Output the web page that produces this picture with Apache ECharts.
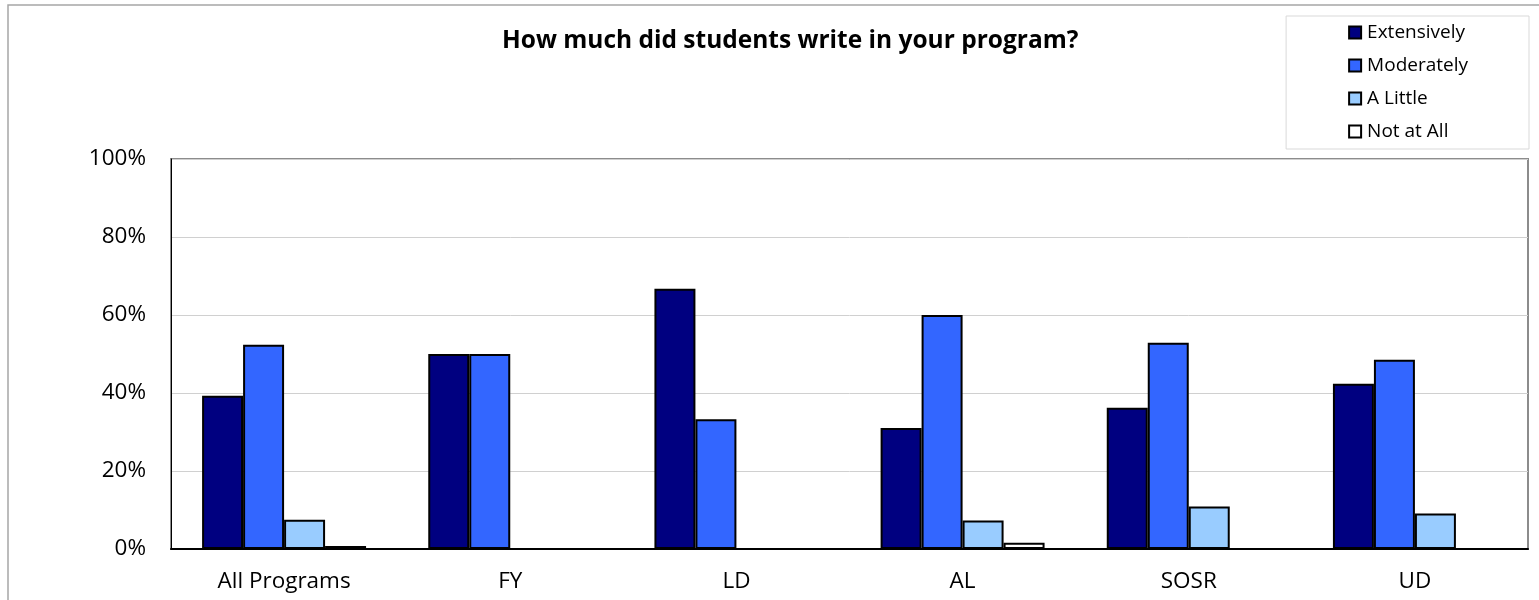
<!DOCTYPE html>
<html>
<head>
<meta charset="utf-8">
<script src="https://cdn.jsdelivr.net/npm/echarts@6/dist/echarts.min.js"></script>
<style>
html,body{margin:0;padding:0;background:#fff;}
#c{width:1539px;height:600px;}
</style>
</head>
<body>
<div id="c"></div>
<script>
const categories = ['All Programs', 'FY', 'LD', 'AL', 'SOSR', 'UD'];
const extensively = [39.3, 50, 66.7, 31.0, 36.2, 42.4];
const moderately = [52.4, 50, 33.3, 60.0, 52.9, 48.5];
const aLittle = [7.5, null, null, 7.3, 10.9, 9.1];
const notAtAll = [0.8, null, null, 1.6, null, null];
const yTicks = [0, 20, 40, 60, 80, 100];

const FONT = 'Open Sans';
const chart = echarts.init(document.getElementById('c'));

function mk(name, data, color) {
  return {
    name: name,
    type: 'bar',
    data: data,
    barGap: '0%',
    barCategoryGap: '27.5%',
    itemStyle: { color: color, borderColor: '#000', borderWidth: 2 },
    emphasis: { disabled: true }
  };
}

chart.setOption({
  animation: false,
  backgroundColor: '#fff',
  title: {
    text: 'How much did students write in your program?',
    left: 497,
    top: 24,
    textStyle: { fontFamily: FONT, fontWeight: 'bold', fontSize: 24.5, color: '#000' }
  },
  legend: {
    orient: 'vertical',
    right: 10,
    top: 16,
    padding: [7, 61, 8, 62],
    itemGap: 14,
    itemWidth: 12,
    itemHeight: 12,
    borderColor: '#d9d9d9',
    borderWidth: 1,
    icon: 'rect',
    itemStyle: { borderColor: '#000', borderWidth: 2 },
    textStyle: { fontFamily: FONT, fontSize: 19, color: '#000', padding: [0, 0, 0, 1] },
    data: ['Extensively', 'Moderately', 'A Little', 'Not at All']
  },
  graphic: [{
    type: 'rect',
    shape: { x: 8, y: 5, width: 1600, height: 700 },
    style: { fill: 'none', stroke: '#a6a6a6', lineWidth: 1.5 },
    silent: true,
    z: -1
  }],
  grid: {
    left: 171, top: 159, right: 11, bottom: 51,
    show: true, borderColor: '#8c8c8c', borderWidth: 2, backgroundColor: '#fff'
  },
  xAxis: {
    type: 'category',
    data: categories,
    axisLine: { show: true, lineStyle: { color: '#000', width: 2 } },
    axisTick: { show: false },
    axisLabel: { fontFamily: FONT, fontSize: 22.5, color: '#000', margin: 21 }
  },
  yAxis: {
    type: 'value',
    min: 0, max: 100, interval: 20,
    axisLine: { show: true, lineStyle: { color: '#000', width: 1 } },
    axisTick: { show: false },
    splitLine: { show: true, lineStyle: { color: '#d0d0d0', width: 1 } },
    axisLabel: {
      fontFamily: FONT, fontSize: 22.5, color: '#000', margin: 25,
      formatter: function (v) { return yTicks.indexOf(v) >= 0 ? v + '%' : ''; }
    }
  },
  series: [
    mk('Extensively', extensively, '#000080'),
    mk('Moderately', moderately, '#3366FF'),
    mk('A Little', aLittle, '#99CCFF'),
    mk('Not at All', notAtAll, '#FFFFFF')
  ]
});
</script>
</body>
</html>
